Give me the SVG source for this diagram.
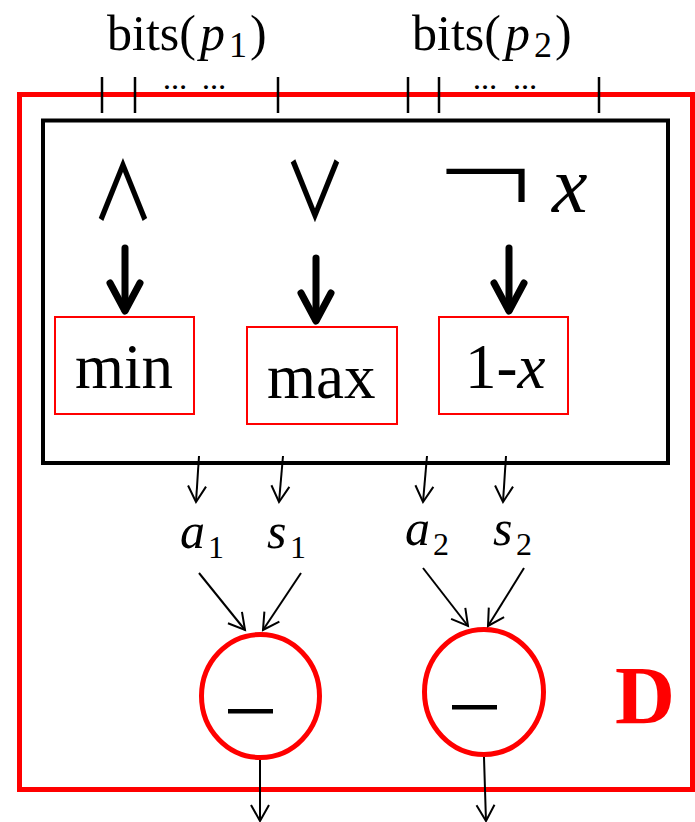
<svg xmlns="http://www.w3.org/2000/svg" width="695" height="822" viewBox="0 0 695 822">
<defs>
<style>
.serif{font-family:"Liberation Serif","Times New Roman",serif;fill:#000}
.it{font-style:italic}
.sym{font-family:"Noto Sans CJK JP","DejaVu Sans",sans-serif;fill:#000}
.neg{font-family:"DejaVu Sans",sans-serif;fill:#000}
.redbox{fill:none;stroke:#ff0000;stroke-width:2}
.thin{fill:none;stroke:#000;stroke-width:2;marker-end:url(#ah)}
.thick{fill:none;stroke:#000;stroke-width:7;stroke-linecap:round;stroke-linejoin:round}
.tick{stroke:#000;stroke-width:2.5}
.op{fill:#fff;stroke:#ff0000;stroke-width:5}
</style>
<marker id="ah" viewBox="-20 -12 24 24" refX="0" refY="0" markerWidth="24" markerHeight="24" markerUnits="userSpaceOnUse" orient="auto">
<path d="M-16,-9 L0,0 L-16,9" fill="none" stroke="#000" stroke-width="2"/>
</marker>
</defs>
<rect width="695" height="822" fill="#fff"/>

<g id="D">
<rect x="19.5" y="94.5" width="673" height="695" fill="none" stroke="#ff0000" stroke-width="5"/>
<text class="serif" x="615" y="723" font-size="83" font-weight="bold" style="fill:#ff0000">D</text>
</g>

<g id="inputs">
<text class="serif" x="107" y="50" font-size="50">bits(</text>
<text class="serif it" x="200" y="50" font-size="50">p</text>
<text class="serif" x="229" y="57" font-size="36">1</text>
<text class="serif" x="250" y="50" font-size="50">)</text>
<text class="serif" x="412" y="50" font-size="50">bits(</text>
<text class="serif it" x="505" y="50" font-size="50">p</text>
<text class="serif" x="534" y="57" font-size="36">2</text>
<text class="serif" x="555" y="50" font-size="50">)</text>
<line class="tick" x1="102" y1="77" x2="102" y2="113"/>
<line class="tick" x1="135" y1="77" x2="135" y2="113"/>
<line class="tick" x1="278" y1="77" x2="278" y2="113"/>
<line class="tick" x1="408" y1="77" x2="408" y2="113"/>
<line class="tick" x1="439" y1="77" x2="439" y2="113"/>
<line class="tick" x1="599" y1="77" x2="599" y2="113"/>
<text class="serif" x="163 202" y="89" font-size="24" font-weight="bold">……</text>
<text class="serif" x="473 513" y="89" font-size="24" font-weight="bold">……</text>
</g>

<g id="logic">
<rect x="43" y="120.5" width="625" height="342.5" fill="none" stroke="#000" stroke-width="4"/>
<text class="sym" transform="translate(123,220) scale(0.78,1)" font-size="80" font-weight="500" text-anchor="middle">∧</text>
<text class="sym" transform="translate(315,220) scale(0.78,1)" font-size="80" font-weight="500" text-anchor="middle">∨</text>
<text class="neg" x="433" y="220" font-size="128" font-weight="200">¬</text>
<text class="serif it" x="552" y="212" font-size="80">x</text>
</g>

<g id="min">
<rect class="redbox" x="55" y="317" width="139" height="97"/>
<text class="serif" x="75" y="388" font-size="63">min</text>
</g>
<g id="max">
<rect class="redbox" x="247" y="327" width="150" height="97"/>
<text class="serif" x="267" y="398" font-size="63">max</text>
</g>
<g id="oneminus">
<rect class="redbox" x="439" y="317" width="129" height="97"/>
<text class="serif" x="465" y="388" font-size="63">1-<tspan class="it">x</tspan></text>
</g>

<g id="labels">
<text class="serif it" x="180" y="548" font-size="50">a</text>
<text class="serif" x="208" y="558" font-size="32">1</text>
<text class="serif it" x="267" y="548" font-size="50">s</text>
<text class="serif" x="290" y="558" font-size="32">1</text>
<text class="serif it" x="405" y="545" font-size="50">a</text>
<text class="serif" x="433" y="555" font-size="32">2</text>
<text class="serif it" x="493" y="545" font-size="50">s</text>
<text class="serif" x="516" y="555" font-size="32">2</text>
</g>

<g id="sub1">
<ellipse class="op" cx="260.5" cy="696" rx="59" ry="61.5"/>
<rect x="228" y="709" width="45" height="4.5" fill="#000"/>
</g>
<g id="sub2">
<ellipse class="op" cx="484" cy="692" rx="59.5" ry="62.5"/>
<rect x="452" y="705" width="45" height="4.5" fill="#000"/>
</g>

<g id="connectors">
<line class="thick" x1="125" y1="248" x2="125" y2="310"/>
<path class="thick" d="M110,283 L125,311 L140,283"/>
<line class="thick" x1="316" y1="258" x2="316" y2="320"/>
<path class="thick" d="M301,293 L316,321 L331,293"/>
<line class="thick" x1="509" y1="248" x2="509" y2="310"/>
<path class="thick" d="M494,283 L509,311 L524,283"/>
<line class="thin" x1="199" y1="456" x2="196" y2="502"/>
<line class="thin" x1="283" y1="456" x2="279" y2="502"/>
<line class="thin" x1="427" y1="456" x2="423" y2="502"/>
<line class="thin" x1="506" y1="456" x2="503" y2="502"/>
<line class="thin" x1="199" y1="573" x2="245" y2="630"/>
<line class="thin" x1="301" y1="573" x2="263" y2="630"/>
<line class="thin" x1="423" y1="568" x2="468" y2="626"/>
<line class="thin" x1="524" y1="568" x2="488" y2="626"/>
<line class="thin" x1="260" y1="760" x2="260" y2="821"/>
<line class="thin" x1="484" y1="757" x2="486" y2="821"/>
</g>
</svg>
